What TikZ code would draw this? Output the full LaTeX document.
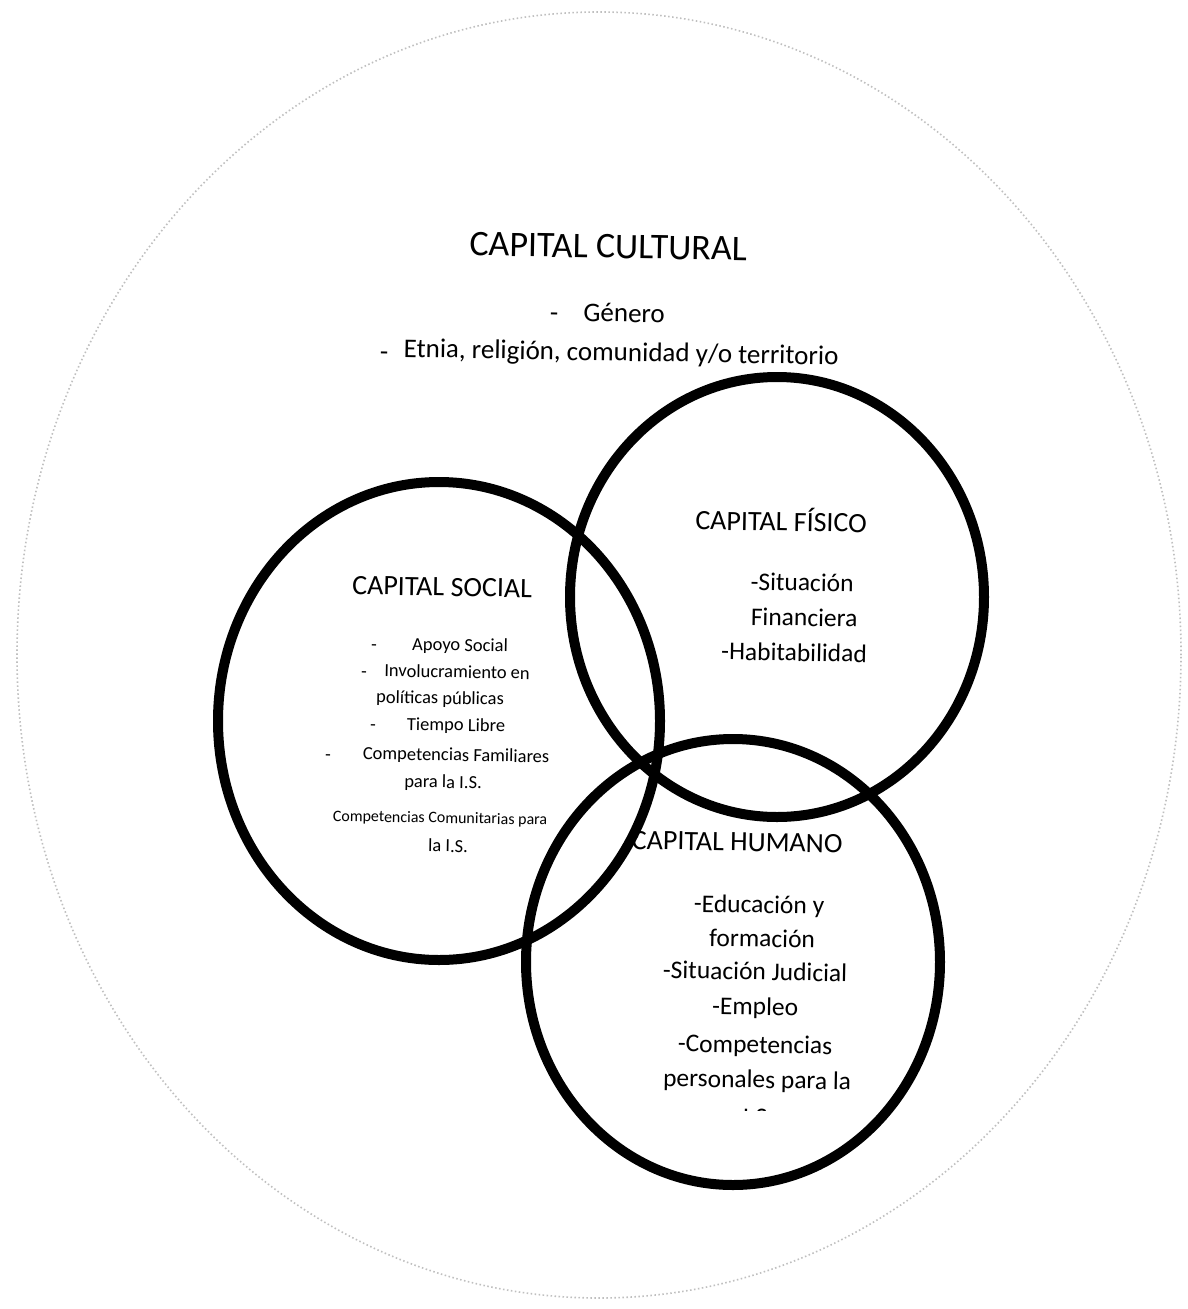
\documentclass[tikz,border=0pt]{standalone}
\usepackage{fontspec}
\setmainfont{Carlito}
\usetikzlibrary{shapes.geometric}
\tikzset{
  ring/.style={draw=black, line width=10pt, ellipse, inner sep=0pt},
  txt/.style={inner sep=0pt, anchor=base, rotate=-1},
  ftitle/.style={font=\fontsize{36}{40}\selectfont},
  fhead/.style={font=\fontsize{28}{32}\selectfont},
  fbig/.style={font=\fontsize{25.5}{30}\selectfont},
  fmid/.style={font=\fontsize{27}{32}\selectfont},
  fsmall/.style={font=\fontsize{18.5}{22}\selectfont},
  ftiny/.style={font=\fontsize{16}{20}\selectfont},
}
\begin{document}
\begin{tikzpicture}[x=1pt,y=-1pt]
\useasboundingbox[fill=white] (0,0) rectangle (1187,1309);
% outer faint circle (capital cultural)
\node[draw=gray!50, line width=1.6pt, dash pattern=on 1.5pt off 2.5pt, ellipse, inner sep=0pt,
      minimum width=1164pt, minimum height=1286pt] (cultural) at (599,655) {};
% Capital cultural texts
\node[txt, ftitle] (tcult) at (608,258) {CAPITAL CULTURAL};
\node[txt, fmid] (cg1) at (554,322) {-};
\node[txt, fmid] (cg2) at (624,322) {Género};
\node[txt, fmid] (ce1) at (384,361) {-};
\node[txt, fmid] (ce2) at (621,361) {Etnia, religión, comunidad y/o territorio};
% Capital fisico texts
\node[txt, fhead] (tfis) at (781,531) {CAPITAL FÍSICO};
\node[txt, fbig] (f1) at (802,591) {-Situación};
\node[txt, fbig] (f2) at (804,626) {Financiera};
\node[txt, fbig] (f3) at (794,661) {-Habitabilidad};
% Capital social texts
\node[txt, fhead] (tsoc) at (442,596) {CAPITAL SOCIAL};
\node[txt, fsmall] (s1d) at (374,651) {-};
\node[txt, fsmall] (s1) at (460,651) {Apoyo Social};
\node[txt, fsmall] (s2d) at (364,678) {-};
\node[txt, fsmall] (s2) at (457,678) {Involucramiento en};
\node[txt, fsmall] (s3) at (440,704) {políticas públicas};
\node[txt, fsmall] (s4d) at (373,731) {-};
\node[txt, fsmall] (s4) at (456,731) {Tiempo Libre};
\node[txt, fsmall] (s5d) at (328,761) {-};
\node[txt, fsmall] (s5) at (456,761) {Competencias Familiares};
\node[txt, fsmall] (s6) at (443,788) {para la I.S.};
\node[txt, ftiny] (s7) at (440,823) {Competencias Comunitarias para};
\node[txt, fsmall] (s8) at (448,852) {la I.S.};
% Capital humano texts
\node[txt, fhead] (thum) at (737,851) {CAPITAL HUMANO};
\node[txt, fbig] (h1) at (759,913) {-Educación y};
\node[txt, fbig] (h2) at (762,947) {formación};
\node[txt, fbig] (h3) at (755,980) {-Situación Judicial};
\node[txt, fbig] (h4) at (755,1015) {-Empleo};
\node[txt, fbig] (h5) at (755,1053) {-Competencias};
\node[txt, fbig] (h6) at (757,1088) {personales para la};
\begin{scope}
  \clip (600,1095) rectangle (900,1110);
  \node[txt, fbig] (h7) at (758,1126) {I.S.};
\end{scope}
% the three rings
\node[ring, minimum width=442pt, minimum height=478pt] (social) at (439,721) {};
\node[ring, minimum width=414pt, minimum height=440pt] (fisico) at (777,597) {};
\node[ring, minimum width=414pt, minimum height=446pt] (humano) at (733,962) {};
\end{tikzpicture}
\end{document}
